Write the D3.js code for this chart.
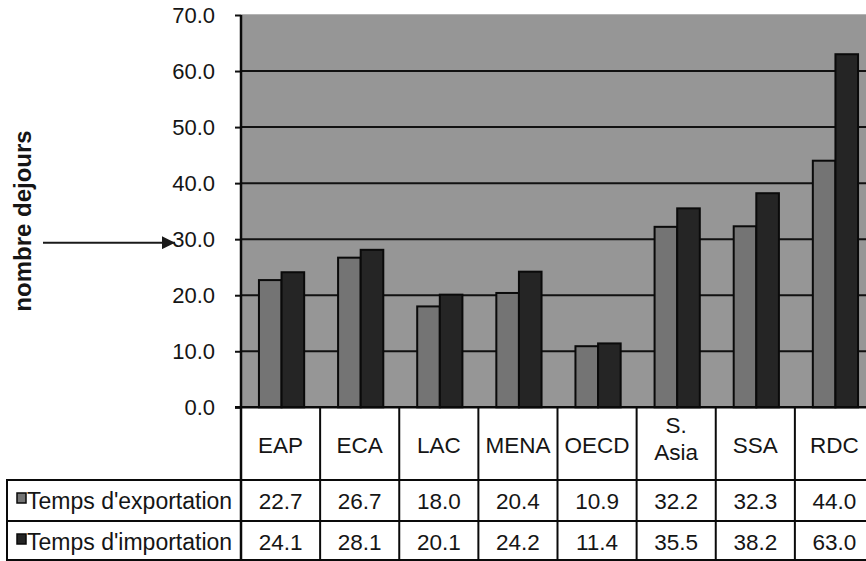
<!DOCTYPE html>
<html>
<head>
<meta charset="utf-8">
<script src="https://cdn.jsdelivr.net/npm/d3@7"></script>
<style>
  html, body { margin: 0; padding: 0; background: #fff; }
  svg { display: block; }
  text { font-family: "Liberation Sans", Arial, Helvetica, sans-serif; fill: #151515; }
</style>
</head>
<body>
<svg id="chart" width="866" height="561"></svg>
<script>
// Regions and the average number of days needed to export / import
const categories = ["EAP", "ECA", "LAC", "MENA", "OECD", "S. Asia", "SSA", "RDC"];
const exportDays = [22.7, 26.7, 18.0, 20.4, 10.9, 32.2, 32.3, 44.0];
const importDays = [24.1, 28.1, 20.1, 24.2, 11.4, 35.5, 38.2, 63.0];
const seriesNames = ["Temps d'exportation", "Temps d'importation"];
const seriesColors = ["#747474", "#252525"];
const yTicks = [0, 10, 20, 30, 40, 50, 60, 70];
const yTitle = "nombre dejours";

const svg = d3.select("#chart");

const plot = { left: 241, right: 874, top: 15, bottom: 407.3 };
const table = { left: 7, headerBottom: 480, row1Bottom: 521, bottom: 560 };

const x = d3.scaleBand().domain(categories).range([plot.left, plot.right]).padding(0);
const x1 = d3.scaleBand().domain(seriesNames).range([0, x.bandwidth()])
  .paddingInner(0).paddingOuter(0.75);
const y = d3.scaleLinear().domain([0, 70]).range([plot.bottom, plot.top]);

// plot background
svg.append("rect")
  .attr("x", plot.left).attr("y", plot.top)
  .attr("width", plot.right - plot.left).attr("height", plot.bottom - plot.top)
  .attr("fill", "#969696");
svg.append("line")
  .attr("x1", plot.left).attr("x2", plot.right)
  .attr("y1", plot.top - 0.5).attr("y2", plot.top - 0.5)
  .attr("stroke", "#b4b4b4").attr("stroke-width", 1);

// horizontal gridlines
svg.append("g").selectAll("line")
  .data(yTicks.filter(d => d > 0 && d < 70))
  .join("line")
  .attr("x1", plot.left).attr("x2", plot.right)
  .attr("y1", d => y(d)).attr("y2", d => y(d))
  .attr("stroke", "#111").attr("stroke-width", 2);

// bars
const rows = categories.map((c, i) => ({ cat: c, values: [exportDays[i], importDays[i]] }));
const groups = svg.append("g").selectAll("g")
  .data(rows)
  .join("g")
  .attr("transform", d => `translate(${x(d.cat) + 1},0)`);
groups.selectAll("rect")
  .data(d => d.values.map((v, k) => ({ key: seriesNames[k], v, k })))
  .join("rect")
  .attr("x", d => x1(d.key))
  .attr("y", d => y(d.v))
  .attr("width", x1.bandwidth())
  .attr("height", d => y(0) - y(d.v))
  .attr("fill", d => seriesColors[d.k])
  .attr("stroke", "#0a0a0a").attr("stroke-width", 2);

// y axis
const yAxis = d3.axisLeft(y).tickValues(yTicks).tickFormat(d3.format(".1f"))
  .tickSize(6).tickPadding(20);
const gy = svg.append("g").attr("transform", `translate(${plot.left},0)`).call(yAxis);
gy.select(".domain").remove();
gy.selectAll(".tick line").attr("stroke", "#111").attr("stroke-width", 2);
gy.selectAll(".tick text")
  .attr("font-size", 22).attr("fill", "#151515")
  .style("font-family", '"Liberation Sans", Arial, sans-serif');

// axis title
svg.append("text")
  .attr("transform", "translate(31,221) rotate(-90)")
  .attr("text-anchor", "middle")
  .attr("font-size", 24).attr("font-weight", "bold")
  .text(yTitle);

// arrow pointing at the 30-day mark
svg.append("defs").append("marker")
  .attr("id", "arrowhead")
  .attr("viewBox", "0 0 10 10").attr("refX", 10).attr("refY", 5)
  .attr("markerWidth", 8.5).attr("markerHeight", 6.5)
  .attr("markerUnits", "strokeWidth").attr("orient", "auto")
  .append("path").attr("d", "M0,0 L10,5 L0,10 Z").attr("fill", "#1a1a1a");
svg.append("line")
  .attr("x1", 43).attr("x2", 175)
  .attr("y1", y(30) + 3.5).attr("y2", y(30) + 3.5)
  .attr("stroke", "#1a1a1a").attr("stroke-width", 2)
  .attr("marker-end", "url(#arrowhead)");

// data table below the plot
const gridStroke = { stroke: "#0a0a0a", width: 2 };
const tbl = svg.append("g");
const hLines = [
  { y: table.headerBottom, x1: table.left },
  { y: table.row1Bottom, x1: table.left },
  { y: table.bottom, x1: table.left }
];
tbl.selectAll("line.h").data(hLines).join("line")
  .attr("x1", d => d.x1).attr("x2", plot.right)
  .attr("y1", d => d.y).attr("y2", d => d.y)
  .attr("stroke", gridStroke.stroke).attr("stroke-width", gridStroke.width);
// column separators follow the category band edges
const edges = categories.map(c => x(c)).concat([x(categories[categories.length - 1]) + x.bandwidth()]);
tbl.selectAll("line.v").data(edges).join("line")
  .attr("x1", d => d).attr("x2", d => d)
  .attr("y1", plot.bottom).attr("y2", table.bottom + 1)
  .attr("stroke", gridStroke.stroke).attr("stroke-width", gridStroke.width);
tbl.append("line")
  .attr("x1", table.left).attr("x2", table.left)
  .attr("y1", table.headerBottom - 1).attr("y2", table.bottom + 1)
  .attr("stroke", gridStroke.stroke).attr("stroke-width", gridStroke.width);

// y axis line and baseline, drawn on top
svg.append("line")
  .attr("x1", plot.left).attr("x2", plot.left)
  .attr("y1", plot.top).attr("y2", table.bottom + 1)
  .attr("stroke", "#0a0a0a").attr("stroke-width", 2.5);
svg.append("line")
  .attr("x1", plot.left - 6).attr("x2", plot.right)
  .attr("y1", plot.bottom).attr("y2", plot.bottom)
  .attr("stroke", "#0a0a0a").attr("stroke-width", 2.5);

// category header cells
const header = tbl.selectAll("text.cat").data(categories).join("text")
  .attr("class", "cat")
  .attr("text-anchor", "middle")
  .attr("font-size", 22.5)
  .attr("x", d => x(d) + x.bandwidth() / 2);
header.each(function (d) {
  const parts = d.split(" ");
  const t = d3.select(this);
  if (parts.length === 1) {
    t.attr("y", 453).text(d);
  } else {
    parts.forEach((p, i) => {
      t.append("tspan").attr("x", x(d) + x.bandwidth() / 2)
        .attr("y", 433 + i * 27).text(p);
    });
  }
});

// series rows: legend key, name and values
const seriesRows = [exportDays, importDays];
const rowBaselines = [509, 550];
seriesRows.forEach((vals, k) => {
  tbl.append("rect")
    .attr("x", 17).attr("y", rowBaselines[k] - 16)
    .attr("width", 9).attr("height", 10)
    .attr("fill", seriesColors[k]).attr("stroke", "#0a0a0a").attr("stroke-width", 1.5);
  tbl.append("text")
    .attr("x", 27).attr("y", rowBaselines[k])
    .attr("font-size", 23)
    .text(seriesNames[k]);
  tbl.selectAll(null).data(vals).join("text")
    .attr("text-anchor", "middle")
    .attr("font-size", 22.5)
    .attr("x", (d, i) => x(categories[i]) + x.bandwidth() / 2)
    .attr("y", rowBaselines[k])
    .text(d => d3.format(".1f")(d));
});
</script>
</body>
</html>
